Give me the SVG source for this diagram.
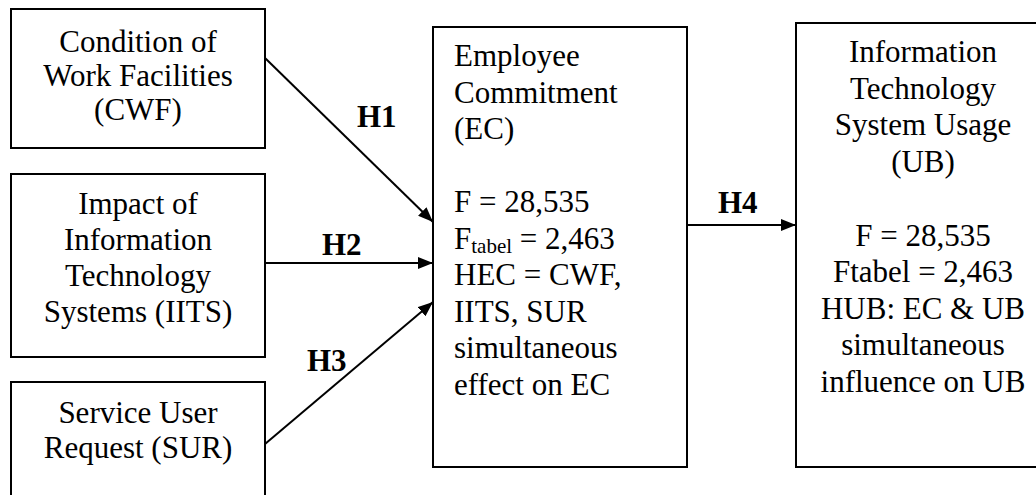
<svg xmlns="http://www.w3.org/2000/svg" width="1036" height="495" viewBox="0 0 1036 495">
<style>
.box{fill:#fff;stroke:#000;stroke-width:2}
.t{font-family:"Liberation Serif","Times New Roman",serif;font-size:31px;fill:#000}
.c{text-anchor:middle}
.b{font-weight:bold}
.sub{font-size:21px}
.con{stroke:#000;stroke-width:2;fill:none;marker-end:url(#arr)}
</style>
<defs>
<marker id="arr" markerUnits="userSpaceOnUse" markerWidth="16" markerHeight="12" refX="15" refY="6" orient="auto">
<path d="M0,0 L15,6 L0,12 z" fill="#000"/>
</marker>
</defs>
<rect width="1036" height="495" fill="#fff"/>
<g id="node-cwf">
<rect class="box" x="11" y="9" width="254" height="139"/>
<text class="t c" x="138" y="52">Condition of</text>
<text class="t c" x="138" y="86">Work Facilities</text>
<text class="t c" x="138" y="120">(CWF)</text>
</g>
<g id="node-iits">
<rect class="box" x="11" y="174" width="254" height="183"/>
<text class="t c" x="138" y="214">Impact of</text>
<text class="t c" x="138" y="250">Information</text>
<text class="t c" x="138" y="286">Technology</text>
<text class="t c" x="138" y="322">Systems (IITS)</text>
</g>
<g id="node-sur">
<rect class="box" x="11" y="382" width="254" height="130"/>
<text class="t c" x="138" y="423">Service User</text>
<text class="t c" x="138" y="458">Request (SUR)</text>
</g>
<g id="node-ec">
<rect class="box" x="433" y="27" width="254" height="440"/>
<text class="t" x="454" y="66">Employee</text>
<text class="t" x="454" y="102.5">Commitment</text>
<text class="t" x="454" y="139">(EC)</text>
<text class="t" x="454" y="212">F = 28,535</text>
<text class="t" x="454" y="248.5">F<tspan class="sub" dy="4">tabel</tspan><tspan dy="-4"> = 2,463</tspan></text>
<text class="t" x="454" y="285">HEC = CWF,</text>
<text class="t" x="454" y="321.5">IITS, SUR</text>
<text class="t" x="454" y="358">simultaneous</text>
<text class="t" x="454" y="394.5">effect on EC</text>
</g>
<g id="node-ub">
<rect class="box" x="796" y="23" width="260" height="444"/>
<text class="t c" x="923" y="62">Information</text>
<text class="t c" x="923" y="98.5">Technology</text>
<text class="t c" x="923" y="135">System Usage</text>
<text class="t c" x="923" y="171.5">(UB)</text>
<text class="t c" x="923" y="245.5">F = 28,535</text>
<text class="t c" x="923" y="282">Ftabel = 2,463</text>
<text class="t c" x="923" y="318.5">HUB: EC &amp; UB</text>
<text class="t c" x="923" y="355">simultaneous</text>
<text class="t c" x="923" y="392">influence on UB</text>
</g>
<g id="connectors">
<line class="con" x1="265" y1="58" x2="433" y2="222"/>
<line class="con" x1="265" y1="263" x2="433" y2="263"/>
<line class="con" x1="265" y1="444" x2="433" y2="302"/>
<line class="con" x1="687" y1="225" x2="796" y2="225"/>
<text class="t b" x="357" y="127">H1</text>
<text class="t b" x="322" y="255">H2</text>
<text class="t b" x="307" y="371">H3</text>
<text class="t b" x="718" y="213">H4</text>
</g>
</svg>
